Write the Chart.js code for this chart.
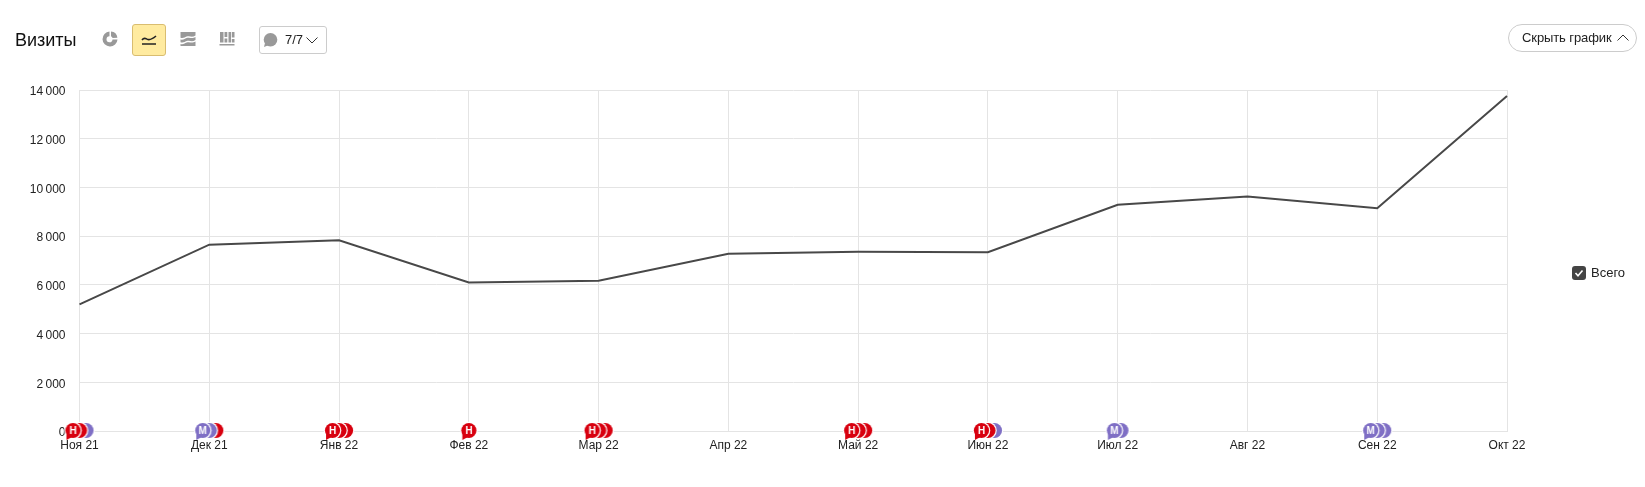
<!DOCTYPE html>
<html lang="ru">
<head>
<meta charset="utf-8">
<title>Визиты</title>
<script src="https://cdn.jsdelivr.net/npm/chart.js@4/dist/chart.umd.js"></script>
<style>
  html, body { margin: 0; padding: 0; background: #fff; }
  body { width: 1645px; height: 487px; position: relative; overflow: hidden;
         font-family: "Liberation Sans", Arial, sans-serif; color: #222; }
  #chart { position: absolute; left: 0; top: 0; }
  .abs { position: absolute; box-sizing: border-box; }
  #title { left: 15px; top: 29px; font-size: 18px; line-height: 22px; color: #111; }
  #active { left: 132px; top: 24px; width: 34px; height: 32px; background: #ffeba0;
            border: 1px solid #d9bd70; border-radius: 3px; }
  #notes { left: 259px; top: 26px; width: 68px; height: 28px; border: 1px solid #ccc;
           border-radius: 3px; font-size: 13px; line-height: 26px; padding-left: 25px; }
  #hide { left: 1508px; top: 24px; width: 129px; height: 28px; border: 1px solid #ccc;
          border-radius: 14px; font-size: 13px; line-height: 26px; padding-left: 13px;
          letter-spacing: -0.1px; color: #222; }
  #legend { left: 1572px; top: 265px; font-size: 13px; line-height: 16px; padding-left: 19px; }
  #legend svg { position: absolute; left: 0; top: 1px; }
  svg.abs { overflow: visible; }
</style>
</head>
<body>
<canvas id="chart" width="1645" height="487"></canvas>

<div class="abs" id="title">Визиты</div>
<svg class="abs" style="left:102px;top:31px" width="16" height="16" viewBox="0 0 16 16">
  <path d="M7.500 0.500a7.500 7.500 0 1 0 8 8h-5a3 3 0 1 1-3-3.200z" fill="#999"/>
  <path d="M9 0.600a7 7 0 0 1 6.400 6.200l-4.800 0.300a3 3 0 0 0-1.600-1.800z" fill="#999"/>
</svg>
<div class="abs" id="active"></div>
<svg class="abs" style="left:141px;top:33px" width="16" height="14" viewBox="0 0 16 14" fill="none" stroke="#222">
  <path d="M1 7c2.500-3.500 4-1 6-0.500s5-1 8-3.500" stroke-width="1.600"/><path d="M1 11h14" stroke-width="1.500"/>
</svg>
<svg class="abs" style="left:180px;top:31px" width="16" height="16" viewBox="0 0 16 16" fill="#999">
  <path d="M0.500 1h15v3.500c-4 2.500-5 0-8 0.800s-4 2.500-7 1.500z"/>
  <path d="M0.500 8.500c3 1 4-1 7-1.700s4 1.500 8-0.800v3c-4 2.500-5 0-8 0.800s-4 2.500-7 1.500z"/>
  <path d="M0.500 13c3 1 4-1 7-1.700s4 1.500 8-0.800v4.500h-15z"/>
</svg>
<svg class="abs" style="left:219px;top:31px" width="16" height="16" viewBox="0 0 16 16" fill="#999">
  <path d="M1 1h3.500v10.500h-3.500zM5.500 7.500h2.800v4h-2.800zM5.500 1h2.800v5h-2.800zM9.500 1h2.500v10.500h-2.500zM12.800 1h2.700v5.500h-2.700zM12.800 8h2.700v3.500h-2.700zM0.500 13h15v1.500h-15z"/>
</svg>
<div class="abs" id="notes">7/7</div>
<svg class="abs" style="left:263px;top:33px" width="15" height="15" viewBox="0 0 15 15">
  <circle cx="7.500" cy="6.800" r="6.800" fill="#999"/><path d="M2 10l-1 4 5-2z" fill="#999"/>
</svg>
<svg class="abs" style="left:306px;top:37px" width="12" height="7" viewBox="0 0 12 7" fill="none" stroke="#333">
  <path d="M0.500 0.500l5.500 5.500 5.500-5.500"/>
</svg>
<div class="abs" id="hide">Скрыть график</div>
<svg class="abs" style="left:1617px;top:34px" width="12" height="7" viewBox="0 0 12 7" fill="none" stroke="#333">
  <path d="M0.500 6.500l5.500-5.500 5.500 5.500"/>
</svg>
<div class="abs" id="legend"><svg width="14" height="14" viewBox="0 0 14 14">
  <rect width="14" height="14" rx="3" fill="#444"/><path d="M3.500 7l2.500 2.800 4.500-5.300" fill="none" stroke="#fff" stroke-width="1.600"/>
</svg><span id="legendText"></span></div>

<script>
const months = ["Ноя 21", "Дек 21", "Янв 22", "Фев 22", "Мар 22", "Апр 22", "Май 22", "Июн 22", "Июл 22", "Авг 22", "Сен 22", "Окт 22"];
const visits = [5200, 7650, 7830, 6100, 6170, 7280, 7360, 7340, 9290, 9630, 9150, 13750];
const seriesName = "Всего";

// заметки на оси: месяц и стопка значков, первый лежит сверху
const noteMonths = ["Ноя 21", "Дек 21", "Янв 22", "Фев 22", "Мар 22", "Май 22", "Июн 22", "Июл 22", "Сен 22"];
const noteStacks = ["ННМ", "ММН", "ННН", "Н", "ННН", "ННН", "ННМ", "ММ", "МММ"];

const noteColors = { "Н": "#d8000f", "М": "#7f6fc5" };

function bubble(ctx, x, y, letter, front) {
  // белое кольцо, чтобы значки в стопке читались по отдельности
  ctx.fillStyle = "#fff";
  ctx.beginPath();
  ctx.arc(x, y, 8.8, 0, Math.PI * 2);
  ctx.fill();
  ctx.fillStyle = noteColors[letter];
  ctx.beginPath();
  ctx.arc(x, y, 7.6, 0, Math.PI * 2);
  ctx.fill();
  if (front) {
    ctx.beginPath();
    ctx.moveTo(x - 6.5, y + 2);
    ctx.lineTo(x - 6.5, y + 9.5);
    ctx.lineTo(x - 1, y + 6.5);
    ctx.fill();
    ctx.fillStyle = "#fff";
    ctx.font = "bold 10px 'Liberation Sans', Arial, sans-serif";
    ctx.textAlign = "center";
    ctx.textBaseline = "middle";
    ctx.fillText(letter, x, y + 0.5);
  }
}

// рисуем стопку на отдельном canvas и отдаем его как pointStyle
function stackIcon(stack) {
  const step = 6.5;
  const w = 52, h = 26;
  const c = document.createElement("canvas");
  c.width = w;
  c.height = h;
  const ctx = c.getContext("2d");
  const first = w / 2 - ((stack.length - 1) * step) / 2;
  for (let i = stack.length - 1; i >= 0; i--) {
    bubble(ctx, first + i * step, h / 2 - 0.5, stack[i], i === 0);
  }
  return c;
}

document.getElementById("legendText").textContent = seriesName;

new Chart(document.getElementById("chart"), {
  type: "line",
  data: {
    labels: months,
    datasets: [
      {
        label: "Заметки",
        data: noteMonths.map((m) => ({ x: m, y: 0 })),
        showLine: false,
        clip: false,
        order: 1,
        pointRadius: 13,
        pointStyle: noteStacks.map(stackIcon),
      },
      {
        label: seriesName,
        data: visits,
        order: 2,
        borderColor: "#484848",
        borderWidth: 2,
        pointRadius: 0,
        tension: 0,
      },
    ],
  },
  options: {
    responsive: false,
    animation: false,
    layout: { padding: { left: 0, top: 90, right: 138, bottom: 0 } },
    plugins: {
      legend: { display: false },
      tooltip: { enabled: false },
    },
    scales: {
      x: {
        offset: false,
        afterFit: (scale) => { scale.height = 56; },
        grid: { color: "#e4e4e4", drawTicks: false },
        border: { color: "#e4e4e4" },
        ticks: {
          autoSkip: false,
          maxRotation: 0,
          padding: 7,
          color: "#222",
          font: { family: "'Liberation Sans', Arial, sans-serif", size: 12 },
        },
      },
      y: {
        min: 0,
        max: 14000,
        afterFit: (scale) => { scale.width = 79.5; },
        grid: { color: "#e4e4e4", drawTicks: false },
        border: { color: "#e4e4e4" },
        ticks: {
          stepSize: 2000,
          padding: 14,
          labelOffset: 2,
          color: "#222",
          font: { family: "'Liberation Sans', Arial, sans-serif", size: 12 },
          callback: (value) => String(value).replace(/\B(?=(\d{3})+$)/g, "\u2009"),
        },
      },
    },
  },
});
</script>
</body>
</html>
